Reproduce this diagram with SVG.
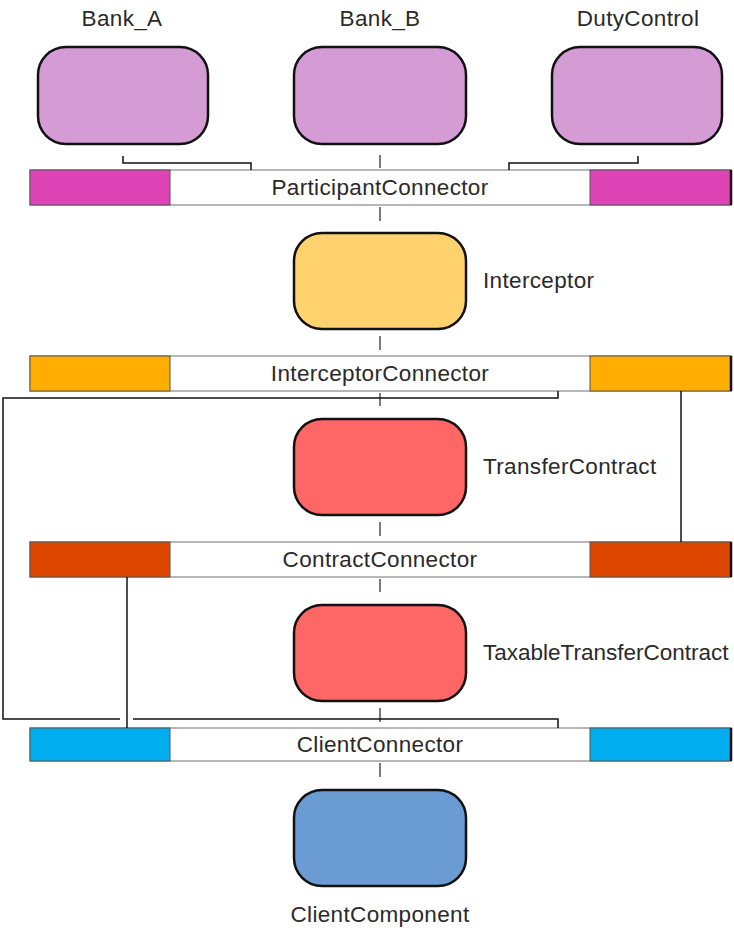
<svg xmlns="http://www.w3.org/2000/svg" width="734" height="930" viewBox="0 0 734 930">
  <style>
    .lbl { font-family: "Liberation Sans", Arial, sans-serif; font-size: 22.5px; fill: #2a2a2a; letter-spacing: 0.35px; }
    .mid { text-anchor: middle; }
    .tight { letter-spacing: 0; }
    .box { stroke: #111; stroke-width: 2.5; }
    .wire { fill: none; stroke: #111; stroke-width: 1.5; }
    .tick { stroke: #333; stroke-width: 1.3; }
    .barbody { fill: #fff; stroke: #888; stroke-width: 1.2; }
    .seg { stroke: #555; stroke-width: 1; }
    .edge { stroke: #111; stroke-width: 2.5; }
  </style>
  <rect width="734" height="930" fill="#fff"/>

  <!-- participants -->
  <g id="bank_a">
    <rect class="box" x="38" y="47" width="170" height="97" rx="28" fill="#D49BD4"/>
    <text class="lbl mid" x="122" y="26">Bank_A</text>
  </g>
  <g id="bank_b">
    <rect class="box" x="294" y="47" width="172" height="97" rx="28" fill="#D49BD4"/>
    <text class="lbl mid" x="380" y="26">Bank_B</text>
  </g>
  <g id="duty_control">
    <rect class="box" x="552" y="47" width="170" height="97" rx="28" fill="#D49BD4"/>
    <text class="lbl mid" x="638" y="26">DutyControl</text>
  </g>

  <!-- connector bars -->
  <g id="participant_connector">
    <rect class="barbody" x="30" y="170" width="701" height="35"/>
    <rect class="seg" x="30" y="170" width="140" height="35" fill="#DE44B6"/>
    <rect class="seg" x="590" y="170" width="141" height="35" fill="#DE44B6"/>
    <line class="edge" x1="731" y1="170" x2="731" y2="205"/>
    <text class="lbl mid" x="380" y="195">ParticipantConnector</text>
  </g>
  <g id="interceptor">
    <rect class="box" x="294" y="233" width="172" height="96" rx="28" fill="#FFD26E"/>
    <text class="lbl" x="483" y="288">Interceptor</text>
  </g>
  <g id="interceptor_connector">
    <rect class="barbody" x="30" y="356" width="701" height="35"/>
    <rect class="seg" x="30" y="356" width="140" height="35" fill="#FFAE00"/>
    <rect class="seg" x="590" y="356" width="141" height="35" fill="#FFAE00"/>
    <line class="edge" x1="731" y1="356" x2="731" y2="391"/>
    <text class="lbl mid" x="380" y="381">InterceptorConnector</text>
  </g>
  <g id="transfer_contract">
    <rect class="box" x="294" y="419" width="172" height="96" rx="28" fill="#FF6666"/>
    <text class="lbl" x="483" y="474">TransferContract</text>
  </g>
  <g id="contract_connector">
    <rect class="barbody" x="30" y="542" width="701" height="35"/>
    <rect class="seg" x="30" y="542" width="140" height="35" fill="#DD4700"/>
    <rect class="seg" x="590" y="542" width="141" height="35" fill="#DD4700"/>
    <line class="edge" x1="731" y1="542" x2="731" y2="577"/>
    <text class="lbl mid" x="380" y="567">ContractConnector</text>
  </g>
  <g id="taxable_transfer_contract">
    <rect class="box" x="294" y="605" width="172" height="96" rx="28" fill="#FF6666"/>
    <text class="lbl tight" x="483" y="660">TaxableTransferContract</text>
  </g>
  <g id="client_connector">
    <rect class="barbody" x="30" y="728" width="701" height="33"/>
    <rect class="seg" x="30" y="728" width="140" height="33" fill="#00AEEF"/>
    <rect class="seg" x="590" y="728" width="141" height="33" fill="#00AEEF"/>
    <line class="edge" x1="731" y1="728" x2="731" y2="761"/>
    <text class="lbl mid" x="380" y="752">ClientConnector</text>
  </g>
  <g id="client_component">
    <rect class="box" x="294" y="790" width="172" height="96" rx="28" fill="#6B9BD3"/>
    <text class="lbl mid" x="380" y="922">ClientComponent</text>
  </g>

  <!-- connectors -->
  <g id="connectors">
    <!-- Bank_A / DutyControl into the participant bar -->
    <polyline class="wire" points="123,156 123,163 251,163 251,170"/>
    <polyline class="wire" points="638,156 638,163 509,163 509,170"/>
    <!-- vertical stack ties on the centre axis -->
    <line class="tick" x1="380" y1="155" x2="380" y2="168"/>
    <line class="tick" x1="380" y1="207" x2="380" y2="221"/>
    <line class="tick" x1="380" y1="336" x2="380" y2="350"/>
    <line class="tick" x1="380" y1="393" x2="380" y2="406"/>
    <line class="tick" x1="380" y1="522" x2="380" y2="536"/>
    <line class="tick" x1="380" y1="579" x2="380" y2="592"/>
    <line class="tick" x1="380" y1="708" x2="380" y2="722"/>
    <line class="tick" x1="380" y1="763" x2="380" y2="777"/>
    <!-- interceptor bar loop round to client bar -->
    <polyline class="wire" points="558,391 558,398 3,398 3,719 120,719"/>
    <polyline class="wire" points="133,719 558,719 558,728"/>
    <!-- interceptor bar right to contract bar right -->
    <line class="wire" x1="681" y1="391" x2="681" y2="542"/>
    <!-- contract bar left to client bar left -->
    <line class="wire" x1="127" y1="577" x2="127" y2="728"/>
  </g>
</svg>
